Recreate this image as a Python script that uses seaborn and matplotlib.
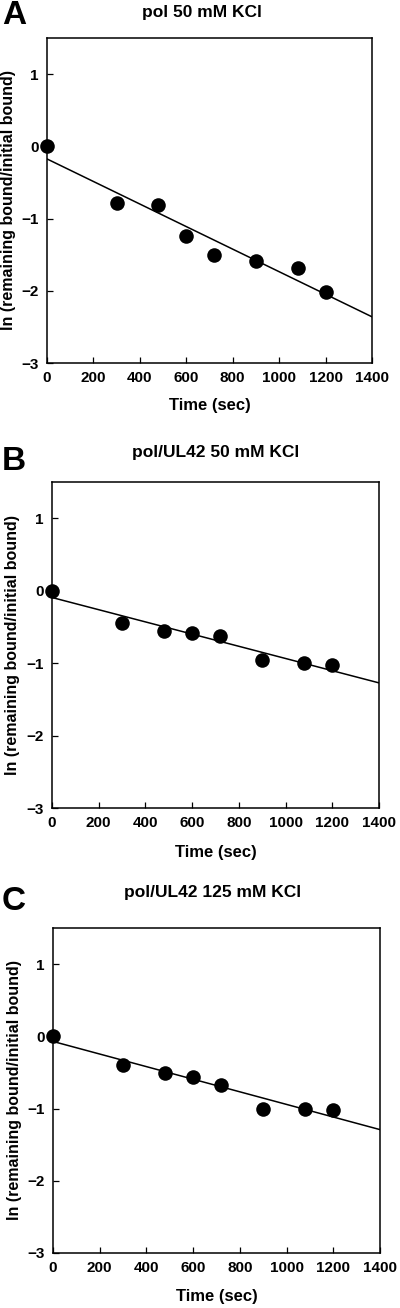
import matplotlib
matplotlib.use("Agg")
import matplotlib.pyplot as plt
import seaborn as sns
import pandas as pd

# ---- data ----
time_sec = [0, 300, 480, 600, 720, 900, 1080, 1200]
ln_pol_50 = [0.0, -0.78, -0.815, -1.245, -1.51, -1.59, -1.69, -2.01]
ln_polul42_50 = [0.0, -0.44, -0.55, -0.59, -0.63, -0.96, -1.00, -1.03]
ln_polul42_125 = [0.0, -0.40, -0.51, -0.56, -0.67, -1.00, -1.01, -1.02]
panel_titles = ["pol 50 mM KCl", "pol/UL42 50 mM KCl", "pol/UL42 125 mM KCl"]
panel_letters = ["A", "B", "C"]
x_ticks = [0, 200, 400, 600, 800, 1000, 1200, 1400]
y_ticks = [-3, -2, -1, 0, 1]
x_label = "Time (sec)"
y_label = "ln (remaining bound/initial bound)"

sns.set_style("ticks")
plt.rcParams["font.family"] = ["Liberation Sans", "DejaVu Sans"]
plt.rcParams["font.weight"] = "bold"
plt.rcParams["text.color"] = "black"

W, H = 400, 1308
fig = plt.figure(figsize=(W / 100, H / 100), dpi=100)

# axes boxes in pixels: left, top, right, bottom
boxes = [(47, 38, 372, 363), (52, 482, 379, 808), (53, 928, 380, 1253)]
title_pos = [(202, 12), (216, 452), (213, 893)]
letter_pos = [(2, 16), (2, 461), (2, 902)]
ylabel_x = [9, 13, 15]
xlabel_y = [406, 852, 1297]

series = [ln_pol_50, ln_polul42_50, ln_polul42_125]

for i in range(3):
    l, t, r, b = boxes[i]
    ax = fig.add_axes([l / W, 1 - b / H, (r - l) / W, (b - t) / H])
    df = pd.DataFrame({"time": time_sec, "lnratio": series[i]})
    ax.set_xlim(0, 1400)
    ax.set_ylim(-3, 1.5)
    sns.regplot(data=df, x="time", y="lnratio", ax=ax, ci=None, truncate=False,
                scatter_kws=dict(s=110, color="black", clip_on=False, zorder=3, linewidths=0, alpha=1),
                line_kws=dict(color="black", lw=1.1))
    ax.set_xlim(0, 1400)
    ax.set_ylim(-3, 1.5)
    ax.set_xticks(x_ticks)
    ax.set_yticks(y_ticks)
    ax.tick_params(direction="in", length=4, width=0.9, labelsize=11, pad=6,
                   colors="black", labelcolor="black")
    for lab in ax.get_xticklabels() + ax.get_yticklabels():
        lab.set_fontweight("bold")
    for s in ax.spines.values():
        s.set_visible(True)
        s.set_linewidth(1.1)
        s.set_color("black")
    ax.set_xlabel("")
    ax.set_ylabel("")
    fig.text(title_pos[i][0] / W, 1 - title_pos[i][1] / H, panel_titles[i],
             ha="center", va="center", fontsize=12.5, fontweight="bold", color="black")
    fig.text(letter_pos[i][0] / W, 1 - letter_pos[i][1] / H, panel_letters[i],
             ha="left", va="center", fontsize=24, fontweight="bold", color="black")
    fig.text(ylabel_x[i] / W, 1 - ((t + b) / 2) / H, y_label, rotation=90,
             ha="center", va="center", fontsize=11.5, fontweight="bold", color="black")
    fig.text(((l + r) / 2) / W, 1 - xlabel_y[i] / H, x_label,
             ha="center", va="center", fontsize=12, fontweight="bold", color="black")

fig.savefig("out.png", dpi=100, facecolor="white")
